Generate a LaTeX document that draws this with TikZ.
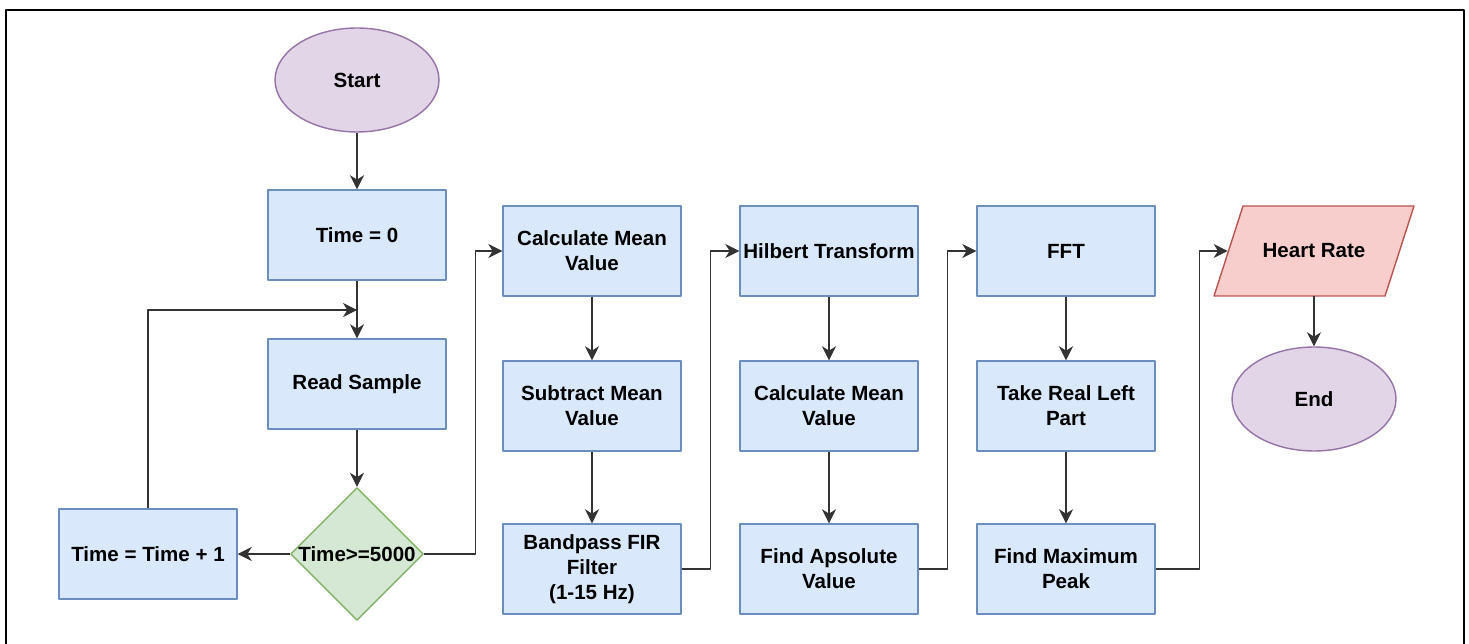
\documentclass[tikz,border=0pt]{standalone}
\usepackage{fontspec}
\setmainfont{Liberation Sans}
\usetikzlibrary{arrows.meta,shapes.geometric}
\definecolor{boxfill}{HTML}{DAE8FC}
\definecolor{boxline}{HTML}{6C8EBF}
\definecolor{decfill}{HTML}{D5E8D4}
\definecolor{decline}{HTML}{82B366}
\definecolor{termfill}{HTML}{E1D5E7}
\definecolor{termline}{HTML}{9673A6}
\definecolor{iofill}{HTML}{F8CECC}
\definecolor{ioline}{HTML}{B85450}
\definecolor{wire}{HTML}{333333}
\tikzset{
  every picture/.style={line join=round, >={Stealth[length=8pt,width=8pt,inset=2.5pt]}},
  every node/.style={font=\fontsize{11.7}{14.2}\selectfont\bfseries, align=center, inner sep=0pt},
  box/.style={draw=boxline, fill=boxfill, line width=0.8pt, minimum width=3.56cm, minimum height=1.8cm},
  decision/.style={diamond, draw=decline, fill=decfill, line width=0.8pt, minimum width=2.66cm, minimum height=2.66cm},
  terminal/.style={ellipse, draw=termline, fill=termfill, line width=0.8pt, minimum width=3.28cm, minimum height=2.08cm},
  ioshape/.style={draw=ioline, fill=iofill, line width=0.8pt},
  iobox/.style={minimum width=3.44cm, minimum height=1.8cm},
  flow/.style={->, draw=wire, line width=0.6pt},
}
\begin{document}
\begin{tikzpicture}[x=0.02cm,y=-0.02cm]
\useasboundingbox (0,0) rectangle (1469,644);
\draw[line width=1.1pt] (6,644) -- (6,10) -- (1464,10) -- (1464,644);
\node[terminal] (start) at (357,80) {Start};
\node[box] (t0) at (357,235) {Time = 0};
\node[box] (rs) at (357,384) {Read Sample};
\node[decision] (dec) at (357,554) {\makebox[0pt]{Time>=5000}};
\node[box] (inc) at (148,554) {Time = Time + 1};
\node[box] (cm1) at (592,251) {Calculate Mean\\Value};
\node[box] (sub) at (592,406) {Subtract Mean\\Value};
\node[box] (bp) at (592,569) {Bandpass FIR\\Filter\\(1-15 Hz)};
\node[box] (hil) at (829,251) {Hilbert Transform};
\node[box] (cm2) at (829,406) {Calculate Mean\\Value};
\node[box] (abs) at (829,569) {Find Apsolute\\Value};
\node[box] (fft) at (1066,251) {FFT};
\node[box] (real) at (1066,406) {Take Real Left\\Part};
\node[box] (peak) at (1066,569) {Find Maximum\\Peak};
\draw[ioshape] (1214,296) -- (1385,296) -- (1414,206) -- (1243,206) -- cycle;
\node[iobox] (hr) at (1314,251) {Heart Rate};
\node[terminal] (stop) at (1314,399) {End};
\coordinate (merge) at (357,310);
\draw[flow] (start) -- (t0);
\draw[flow] (t0) -- (rs);
\draw[flow] (rs) -- (dec);
\draw[flow] (dec) -- (inc);
\draw[flow] (inc.north) |- (merge);
\draw[flow] (dec.east) -- ++(51,0) |- (cm1.west);
\draw[flow] (cm1) -- (sub); \draw[flow] (sub) -- (bp);
\draw[flow] (bp.east) -- ++(29,0) |- (hil.west);
\draw[flow] (hil) -- (cm2); \draw[flow] (cm2) -- (abs);
\draw[flow] (abs.east) -- ++(29,0) |- (fft.west);
\draw[flow] (fft) -- (real); \draw[flow] (real) -- (peak);
\draw[flow] (peak.east) -- ++(44,0) |- (hr.west);
\draw[flow] (hr) -- (stop);
\end{tikzpicture}
\end{document}
